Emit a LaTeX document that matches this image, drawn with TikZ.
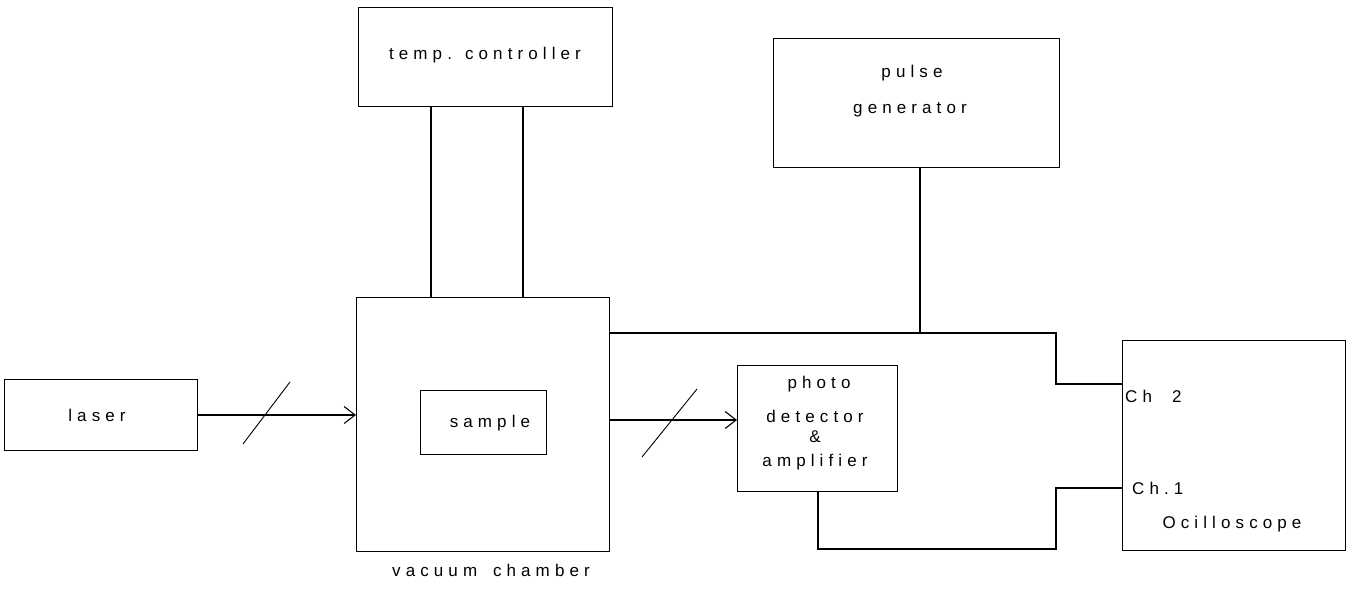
\documentclass[tikz,border=0pt]{standalone}
\usepackage{fontspec}
\newfontfamily\lblfont[LetterSpace=30]{Liberation Sans}
\usetikzlibrary{arrows.meta}
\begin{document}
\begin{tikzpicture}[x=1pt,y=-1pt,
  box/.style={draw,line width=1.1pt,anchor=north west,inner sep=0pt},
  lbl/.style={font=\lblfont\fontsize{17}{20}\selectfont,inner sep=0pt},
  wire/.style={line width=1.1pt},
  beam/.style={line width=1.1pt,-{Straight Barb[length=11pt,width=17pt,line width=1.1pt]}},
  slash/.style={line width=0.9pt}]
\useasboundingbox (0,0) rectangle (1347,594);
% boxes
\node[box,minimum width=193pt,minimum height=71pt] (laser) at (4,379) {};
\node[lbl] (laserT) at (97,415) {laser};
\node[box,minimum width=254pt,minimum height=99pt] (tempc) at (358,7) {};
\node[lbl] (tempcT) at (485,55) {temp. controller};
\node[box,minimum width=253pt,minimum height=254pt] (vac) at (356,297) {};
\node[lbl] (vacT) at (491,570) {vacuum\hspace{6pt} chamber};
\node[box,minimum width=126pt,minimum height=64pt] (sample) at (420,390) {};
\node[lbl] (sampleT) at (490,423) {sample};
\node[box,minimum width=286pt,minimum height=129pt] (pulse) at (773,38) {};
\node[lbl] (pulseT1) at (912,73) {pulse};
\node[lbl] (pulseT2) at (910,110) {generator};
\node[box,minimum width=160pt,minimum height=126pt] (photo) at (737,365) {};
\node[lbl] (photoT1) at (819,384) {photo};
\node[lbl] (photoT2) at (815,416) {detector};
\node[lbl] (photoT3) at (815,437) {\&};
\node[lbl] (photoT4) at (815,462) {amplifier};
\node[box,minimum width=223pt,minimum height=210pt] (osc) at (1122,340) {};
\node[lbl,anchor=west] (ch2) at (1125,396) {Ch\hspace{20pt}2};
\node[lbl,anchor=west] (ch1) at (1132,488) {Ch.1};
\node[lbl] (oscT) at (1232,524) {Ocilloscope};
% coordinates
\coordinate (b1) at (197,415);
\coordinate (b2) at (609,420);
\coordinate (tw1) at (431,106);
\coordinate (tw2) at (523,106);
\coordinate (v1) at (609,333);
\coordinate (j1) at (920,333);
\coordinate (k1) at (1056,333);
\coordinate (k2) at (1056,384);
\coordinate (p1) at (818,491);
\coordinate (p2) at (818,549);
\coordinate (m1) at (1056,549);
\coordinate (m2) at (1056,488);
% beams
\draw[beam] (b1) -- (b1 -| vac.west);
\draw[beam] (b2) -- (b2 -| photo.west);
\coordinate (s1a) at (243,444); \coordinate (s1b) at (290,382);
\coordinate (s2a) at (642,457); \coordinate (s2b) at (697,389);
\draw[slash] (s1a) -- (s1b);
\draw[slash] (s2a) -- (s2b);
% wires
\draw[wire] (tw1) -- (tw1 |- vac.north);
\draw[wire] (tw2) -- (tw2 |- vac.north);
\draw[wire] (v1) -- (k1) -- (k2) -- (k2 -| osc.west);
\draw[wire] (pulse.south -| j1) -- (j1);
\draw[wire] (p1) -- (p2) -- (m1) -- (m2) -- (m2 -| osc.west);
\end{tikzpicture}
\end{document}
